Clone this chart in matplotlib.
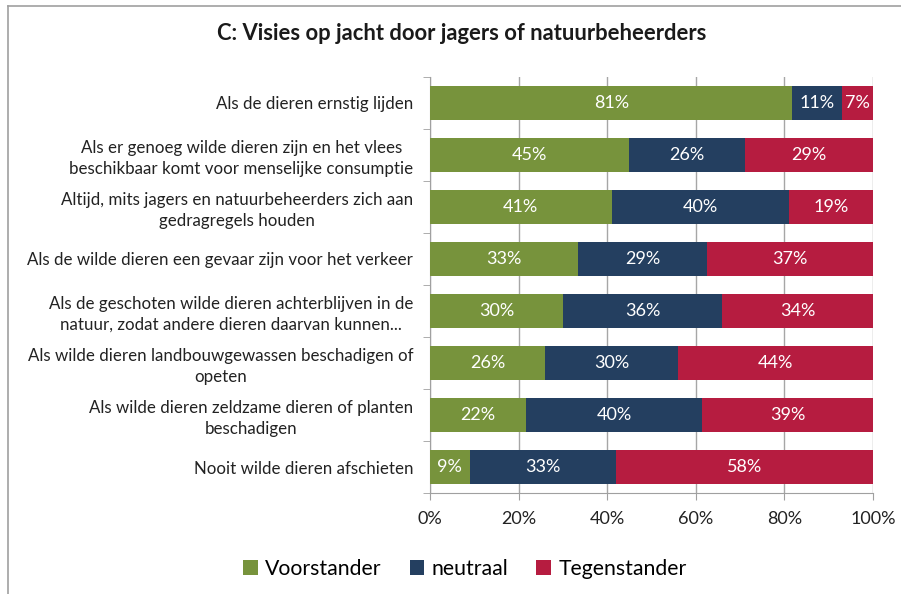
import matplotlib
matplotlib.use("Agg")
import matplotlib.pyplot as plt
import numpy as np
from matplotlib.patches import Patch
from matplotlib.lines import Line2D

plt.rcParams['font.family'] = ['Lato', 'DejaVu Sans']

title = "C: Visies op jacht door jagers of natuurbeheerders"
categories = [
    "Als de dieren ernstig lijden",
    "Als er genoeg wilde dieren zijn en het vlees\nbeschikbaar komt voor menselijke consumptie",
    "Altijd, mits jagers en natuurbeheerders zich aan\ngedragregels houden",
    "Als de wilde dieren een gevaar zijn voor het verkeer",
    "Als de geschoten wilde dieren achterblijven in de\nnatuur, zodat andere dieren daarvan kunnen...",
    "Als wilde dieren landbouwgewassen beschadigen of\nopeten",
    "Als wilde dieren zeldzame dieren of planten\nbeschadigen",
    "Nooit wilde dieren afschieten",
]
series_names = ["Voorstander", "neutraal", "Tegenstander"]
voorstander = [81, 45, 41, 33, 30, 26, 22, 9]
neutraal = [11, 26, 40, 29, 36, 30, 40, 33]
tegenstander = [7, 29, 19, 37, 34, 44, 39, 58]
xticks = [0, 20, 40, 60, 80, 100]
colors = ["#77933C", "#243F60", "#B61C40"]

data = np.array([voorstander, neutraal, tegenstander], dtype=float)
shares = data / data.sum(axis=0) * 100

fig = plt.figure(figsize=(9.01, 5.94), dpi=100)
ax = fig.add_axes([430/901, 1-493/594, 443/901, 416/594])

y = np.arange(len(categories))
left = np.zeros(len(categories))
for i, name in enumerate(series_names):
    ax.barh(y, shares[i], left=left, height=0.64, color=colors[i], zorder=3, label=name)
    for j in range(len(categories)):
        ax.text(left[j] + shares[i][j] / 2, y[j], f"{int(data[i][j])}%", ha='center', va='center',
                color='white', fontsize=13, zorder=4)
    left += shares[i]

ax.set_xlim(0, 100)
ax.set_ylim(len(categories) - 0.5, -0.5)
ax.set_xticks(xticks)
ax.set_xticklabels([f"{t}%" for t in xticks], fontsize=13, color='#222222')
ax.set_yticks(y)
ax.set_yticklabels(categories, fontsize=12.2, color='#222222', multialignment='center', linespacing=1.35)
ax.set_yticks(np.arange(len(categories) + 1) - 0.5, minor=True)
ax.tick_params(axis='y', which='major', length=0, pad=12)
ax.tick_params(axis='y', which='minor', length=5, color='#A0A0A0', direction='out')
ax.tick_params(axis='x', length=5, color='#A0A0A0', pad=8)
ax.grid(axis='x', color='#A6A6A6', linewidth=1, zorder=0)
for s in ['top', 'right']:
    ax.spines[s].set_visible(False)
for s in ['left', 'bottom']:
    ax.spines[s].set_color('#A0A0A0')

fig.text(0.512, 1-34/594, title, ha='center', va='center', fontsize=15.8, fontweight='bold', color='#1a1a1a')

handles = [Patch(facecolor=c, edgecolor='none') for c in colors]
fig.legend(handles, series_names, loc='center', bbox_to_anchor=(0.516, 1-569/594), ncol=3,
           frameon=False, fontsize=15.3, handlelength=0.7, handleheight=0.7,
           handletextpad=0.35, columnspacing=1.3)

# chart area border (top and left visible)
fig.add_artist(Line2D([8/901, 1], [1-6/594, 1-6/594], color='#A0A0A0', linewidth=1.2, transform=fig.transFigure))
fig.add_artist(Line2D([8/901, 8/901], [0, 1-6/594], color='#A0A0A0', linewidth=1.2, transform=fig.transFigure))

fig.savefig("out.png", dpi=100)
